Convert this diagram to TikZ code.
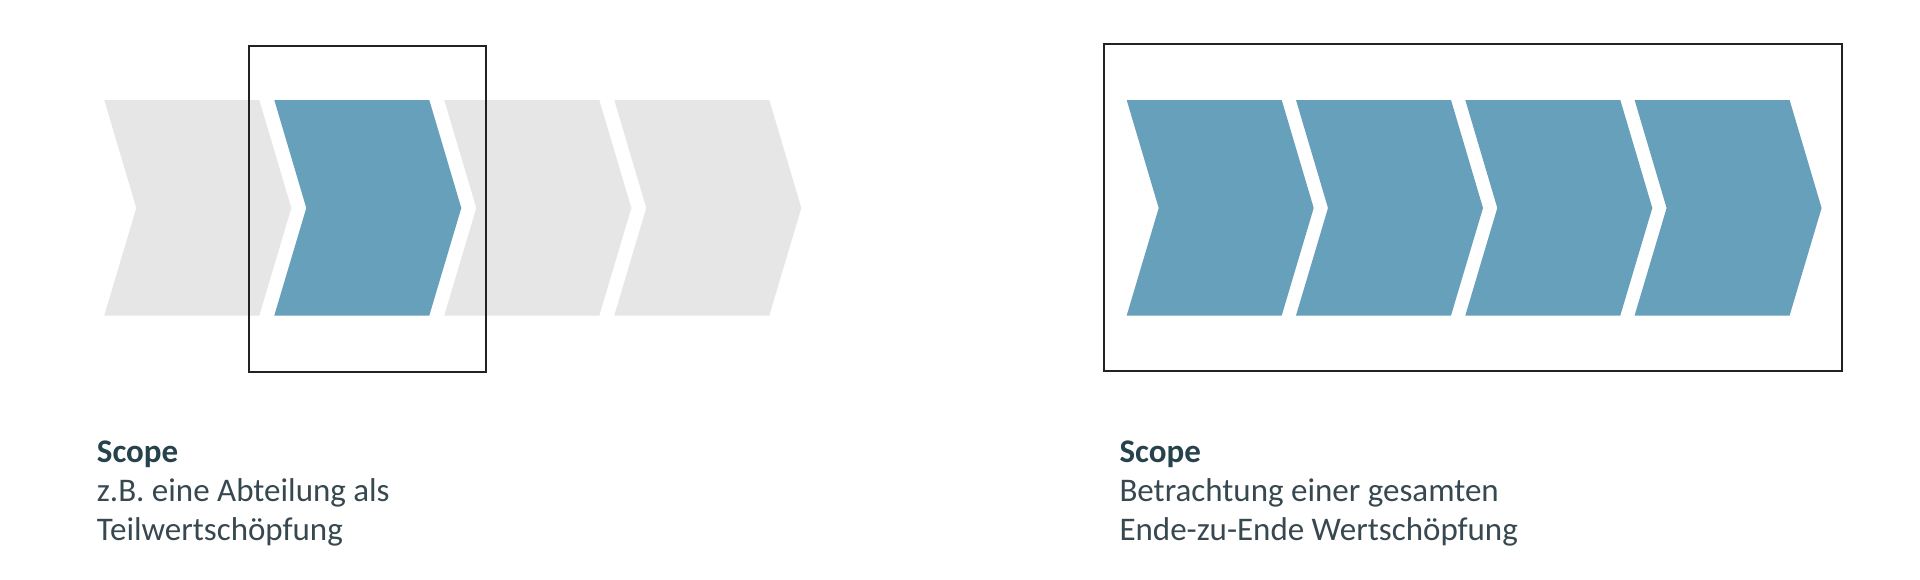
\documentclass[tikz,border=0pt]{standalone}
\usepackage{fontspec}
\setmainfont{Carlito}
\definecolor{chevblue}{RGB}{103,160,187}
\definecolor{chevgray}{RGB}{230,230,230}
\definecolor{boxline}{RGB}{34,34,34}
\definecolor{headtext}{RGB}{38,66,76}
\definecolor{bodytext}{RGB}{56,72,80}
\tikzset{
  chevblue/.style={fill=chevblue},
  chevgray/.style={fill=chevgray},
  scopebox/.style={draw=boxline, line width=2pt},
  headlbl/.style={anchor=base west, inner sep=0pt, text=headtext, font=\fontsize{33}{38.5}\selectfont\bfseries},
  bodylbl/.style={anchor=base west, inner sep=0pt, text=bodytext, font=\fontsize{33}{38.5}\selectfont},
}
\newcommand{\chevronat}[2]{%
  \fill[#2] (#1,100) -- ++(155,0) -- ++(32,108) -- ++(-32,107.5) -- ++(-155,0) -- ++(32,-107.5) -- cycle;}
\begin{document}
\begin{tikzpicture}[x=1pt,y=-1pt]
\useasboundingbox[fill=white] (0,0) rectangle (1920,579);
% left group
\chevronat{104.3}{chevgray}
\chevronat{274.3}{chevblue}
\chevronat{444.3}{chevgray}
\chevronat{614.3}{chevgray}
\draw[scopebox] (248.5,46) rectangle (485.5,371.7);
% right group
\chevronat{1126.7}{chevblue}
\chevronat{1296.0}{chevblue}
\chevronat{1465.3}{chevblue}
\chevronat{1634.6}{chevblue}
\draw[scopebox] (1104,44.3) rectangle (1842,370.7);
% labels
\node[headlbl] (lh) at (96.7,462.7) {Scope};
\node[bodylbl] (l1) at (96.7,501.7) {z.B. eine Abteilung als};
\node[bodylbl] (l2) at (96.7,540.2) {Teilwertschöpfung};
\node[headlbl] (rh) at (1119.3,462.7) {Scope};
\node[bodylbl] (r1) at (1119.3,501.7) {Betrachtung einer gesamten};
\node[bodylbl] (r2) at (1119.3,540.2) {Ende-zu-Ende Wertschöpfung};
\end{tikzpicture}
\end{document}
